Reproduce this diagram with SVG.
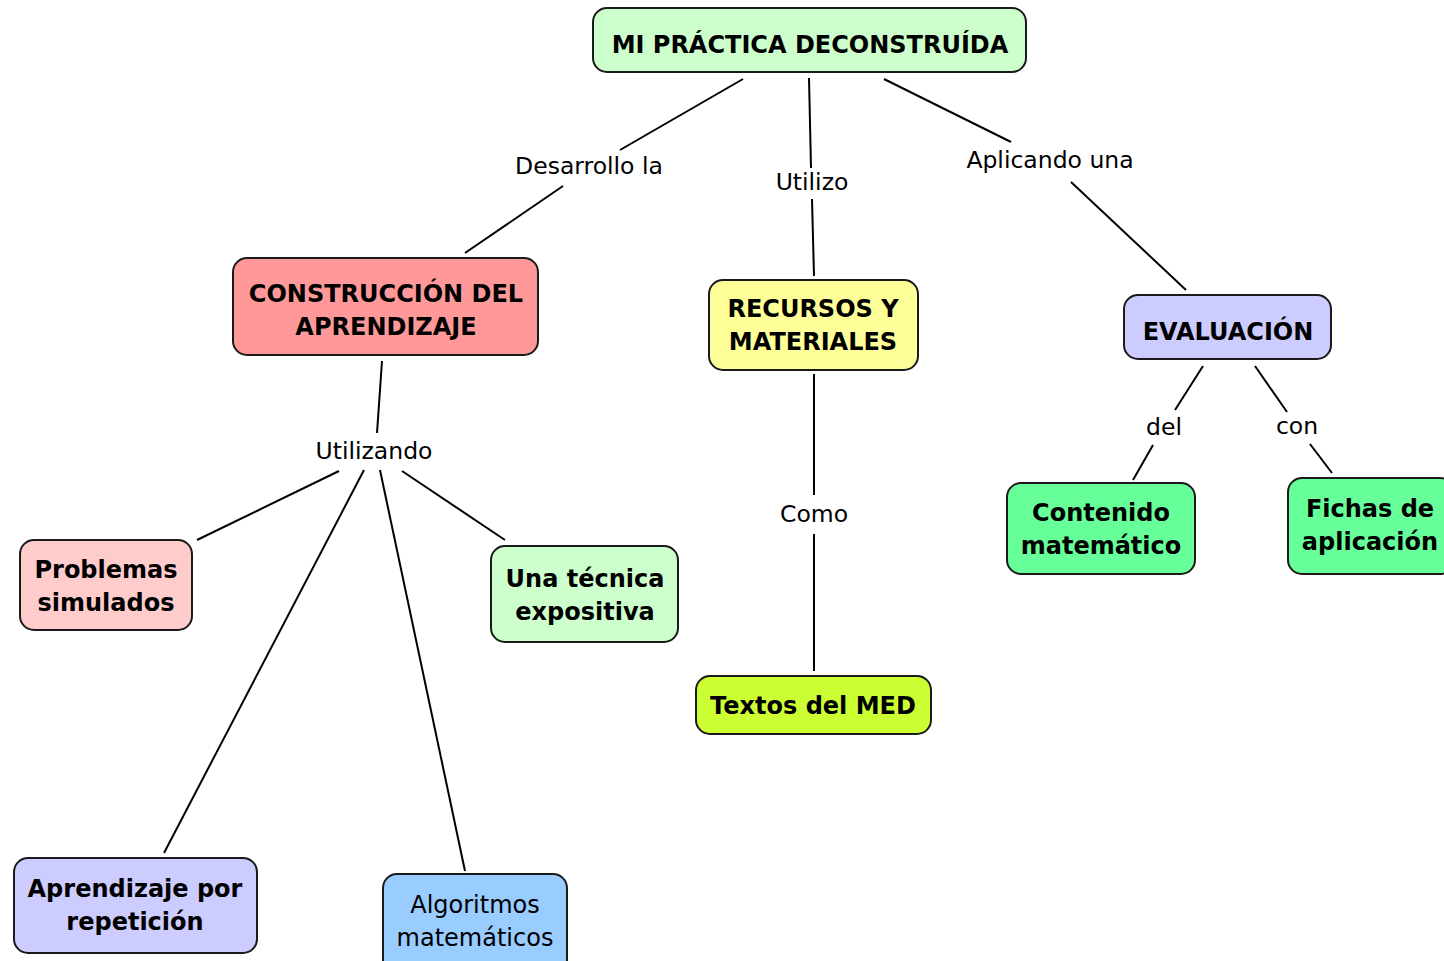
<svg xmlns="http://www.w3.org/2000/svg" width="1444" height="961" viewBox="0 0 1444 961">
  <style>
    .box { stroke: #1a1a1a; stroke-width: 2; }
    .t { font-family: "DejaVu Sans", Verdana, sans-serif; font-weight: bold; font-size: 24px; fill: #000; text-anchor: middle; dominant-baseline: central; }
    .tn { font-family: "DejaVu Sans", Verdana, sans-serif; font-size: 24px; fill: #000; text-anchor: middle; dominant-baseline: central; }
    .lbl { font-family: "DejaVu Sans", Verdana, sans-serif; font-size: 23.5px; fill: #000; text-anchor: middle; dominant-baseline: central; }
    .c { stroke: #000; stroke-width: 2; fill: none; }
  </style>
  <rect width="1444" height="961" fill="#fff"/>

  <!-- connectors and linking phrases -->
  <g id="connectors">
    <line class="c" x1="743" y1="79" x2="620" y2="150"/>
    <text class="lbl" x="589" y="166">Desarrollo la</text>
    <line class="c" x1="563" y1="186" x2="465" y2="253"/>

    <line class="c" x1="809" y1="78" x2="811" y2="168"/>
    <text class="lbl" x="812" y="182">Utilizo</text>
    <line class="c" x1="812" y1="199" x2="814" y2="276"/>

    <line class="c" x1="884" y1="79" x2="1011" y2="142"/>
    <text class="lbl" x="1050" y="160">Aplicando una</text>
    <line class="c" x1="1071" y1="182" x2="1186" y2="290"/>

    <line class="c" x1="382" y1="361" x2="377" y2="433"/>
    <text class="lbl" x="374" y="451">Utilizando</text>
    <line class="c" x1="339" y1="471" x2="197" y2="540"/>
    <line class="c" x1="402" y1="471" x2="505" y2="540"/>
    <line class="c" x1="364" y1="470" x2="164" y2="853"/>
    <line class="c" x1="380" y1="470" x2="465" y2="871"/>

    <line class="c" x1="814" y1="374" x2="814" y2="495"/>
    <text class="lbl" x="814" y="514">Como</text>
    <line class="c" x1="814" y1="534" x2="814" y2="671"/>

    <line class="c" x1="1203" y1="366" x2="1175" y2="410"/>
    <text class="lbl" x="1164" y="427">del</text>
    <line class="c" x1="1153" y1="445" x2="1133" y2="480"/>

    <line class="c" x1="1255" y1="366" x2="1287" y2="412"/>
    <text class="lbl" x="1297" y="426">con</text>
    <line class="c" x1="1310" y1="444" x2="1332" y2="473"/>
  </g>

  <g id="root">
    <rect class="box" x="593" y="8" width="433" height="64" rx="14" fill="#ccffcc"/>
    <text class="t" x="810" y="45">MI PRÁCTICA DECONSTRUÍDA</text>
  </g>
  <g id="construccion">
    <rect class="box" x="233" y="258" width="305" height="97" rx="14" fill="#ff9999"/>
    <text class="t" x="386" y="294">CONSTRUCCIÓN DEL</text>
    <text class="t" x="386" y="327">APRENDIZAJE</text>
  </g>
  <g id="recursos">
    <rect class="box" x="709" y="280" width="209" height="90" rx="14" fill="#ffff99"/>
    <text class="t" x="813" y="309">RECURSOS Y</text>
    <text class="t" x="813" y="342">MATERIALES</text>
  </g>
  <g id="evaluacion">
    <rect class="box" x="1124" y="295" width="207" height="64" rx="14" fill="#ccccff"/>
    <text class="t" x="1228" y="332">EVALUACIÓN</text>
  </g>
  <g id="contenido">
    <rect class="box" x="1007" y="483" width="188" height="91" rx="14" fill="#66ff99"/>
    <text class="t" x="1101" y="513">Contenido</text>
    <text class="t" x="1101" y="546">matemático</text>
  </g>
  <g id="fichas">
    <rect class="box" x="1288" y="478" width="166" height="96" rx="14" fill="#66ff99"/>
    <text class="t" x="1370" y="509">Fichas de</text>
    <text class="t" x="1370" y="542">aplicación</text>
  </g>
  <g id="problemas">
    <rect class="box" x="20" y="540" width="172" height="90" rx="14" fill="#ffcccc"/>
    <text class="t" x="106" y="570">Problemas</text>
    <text class="t" x="106" y="603">simulados</text>
  </g>
  <g id="tecnica">
    <rect class="box" x="491" y="546" width="187" height="96" rx="14" fill="#ccffcc"/>
    <text class="t" x="585" y="579">Una técnica</text>
    <text class="t" x="585" y="612">expositiva</text>
  </g>
  <g id="textos">
    <rect class="box" x="696" y="676" width="235" height="58" rx="14" fill="#ccff33"/>
    <text class="t" x="813" y="706">Textos del MED</text>
  </g>
  <g id="aprendizaje">
    <rect class="box" x="14" y="858" width="243" height="95" rx="14" fill="#ccccff"/>
    <text class="t" x="135" y="889">Aprendizaje por</text>
    <text class="t" x="135" y="922">repetición</text>
  </g>
  <g id="algoritmos">
    <rect class="box" x="383" y="874" width="184" height="100" rx="14" fill="#99ccff"/>
    <text class="tn" x="475" y="905">Algoritmos</text>
    <text class="tn" x="475" y="938">matemáticos</text>
  </g>
</svg>
